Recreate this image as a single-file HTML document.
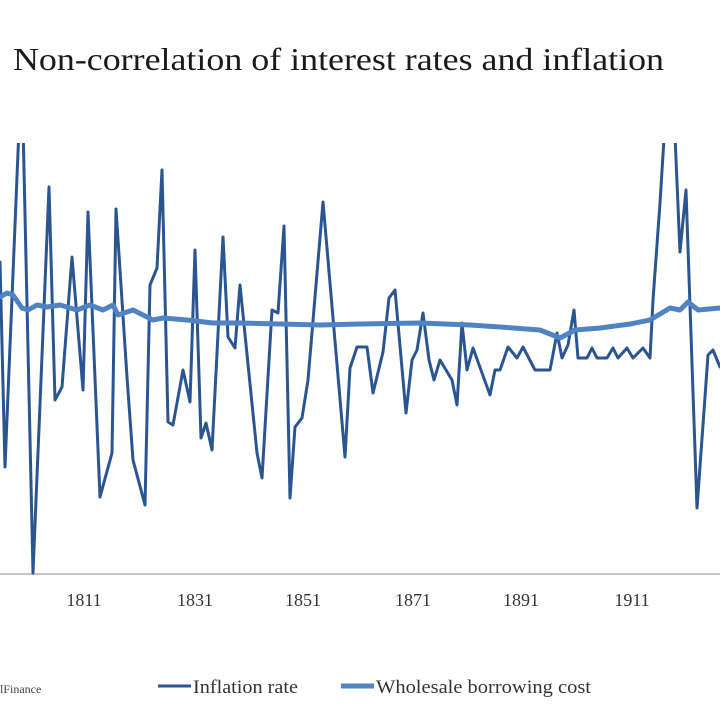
<!DOCTYPE html>
<html>
<head>
<meta charset="utf-8">
<style>
  html, body { margin:0; padding:0; background:#fff; }
  body { width:720px; height:720px; overflow:hidden; }
  svg { display:block; }
</style>
</head>
<body>
<svg width="720" height="720" viewBox="0 0 720 720" xmlns="http://www.w3.org/2000/svg">
  <rect width="720" height="720" fill="#ffffff"/>
  <defs>
    <clipPath id="plot"><rect x="0" y="143" width="720" height="432"/></clipPath>
  </defs>
  <text x="13" y="70" font-family="'Liberation Serif', serif" font-size="32" fill="#1a1a1a" textLength="651" lengthAdjust="spacingAndGlyphs">Non-correlation of  interest rates and inflation</text>

  <!-- x axis -->
  <line x1="0" y1="574" x2="720" y2="574" stroke="#c4c4c4" stroke-width="2"/>

  <g font-family="'Liberation Serif', serif" font-size="18" fill="#333" text-anchor="middle">
    <text x="84" y="606">1811</text>
    <text x="195" y="606">1831</text>
    <text x="303" y="606">1851</text>
    <text x="413" y="606">1871</text>
    <text x="521" y="606">1891</text>
    <text x="632" y="606">1911</text>
  </g>

  <g clip-path="url(#plot)">
    <polyline fill="none" stroke="#2b5591" stroke-width="3" stroke-linejoin="round" stroke-linecap="round"
      points="0,262 5,467 21,80 22,80 33,573 49,187 55,400 62,387 72,257 83,390 88,212 100,497 112,453 116,209 127,377 133,460 145,505 150,285 157,268 162,170 168,422 173,425 183,370 190,402 195,250 201,438 206,423 212,450 223,237 228,337 235,348 240,285 257,453 262,478 272,310 278,313 284,226 290,498 295,427 302,418 308,380 323,202 345,457 350,368 357,347 367,347 373,393 383,352 389,298 395,290 406,413 412,360 417,350 423,313 429,360 434,380 440,360 452,380 457,405 462,323 467,370 473,348 490,395 495,370 500,370 508,347 517,358 523,347 535,370 550,370 557,333 562,358 568,345 574,310 578,358 587,358 592,348 597,358 607,358 613,348 618,358 627,348 633,358 643,348 650,358 653,300 660,203 667,90 673,90 680,252 686,190 697,508 708,355 713,350 720,367"/>
    <polyline fill="none" stroke="#4f83c3" stroke-width="5" stroke-linejoin="round" stroke-linecap="round"
      points="0,297 7,293 13,295 22,308 28,310 37,305 47,307 60,305 77,310 90,305 103,310 113,305 118,315 133,310 153,320 163,318 187,320 213,323 240,323 280,324 320,325 360,324 420,323 470,325 500,327 540,330 560,338 575,330 600,328 630,324 650,320 670,308 680,310 688,302 698,310 720,308"/>
  </g>

  <!-- footer / legend -->
  <text x="0" y="693" font-family="'Liberation Serif', serif" font-size="12" fill="#444">lFinance</text>
  <line x1="158" y1="686" x2="191" y2="686" stroke="#2b5591" stroke-width="3"/>
  <text x="193" y="693" font-family="'Liberation Serif', serif" font-size="19" fill="#333" textLength="105" lengthAdjust="spacingAndGlyphs">Inflation rate</text>
  <line x1="341" y1="686" x2="374" y2="686" stroke="#4f83c3" stroke-width="5"/>
  <text x="376" y="693" font-family="'Liberation Serif', serif" font-size="19" fill="#333" textLength="215" lengthAdjust="spacingAndGlyphs">Wholesale borrowing cost</text>
</svg>
</body>
</html>
